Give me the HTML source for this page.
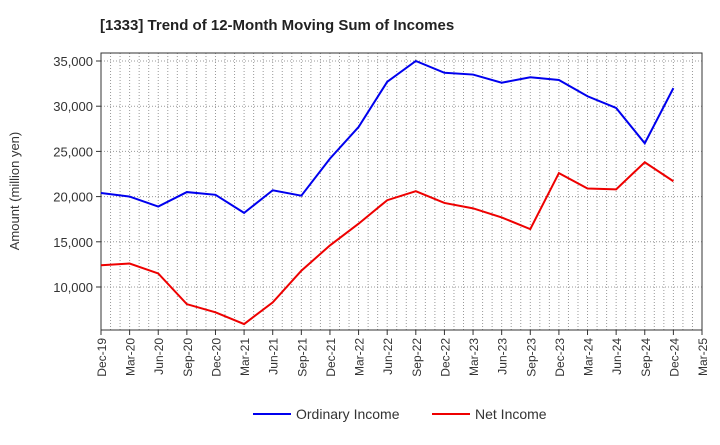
<!DOCTYPE html>
<html><head><meta charset="utf-8"><style>
body{margin:0;background:#fff;font-family:"Liberation Sans",Arial,sans-serif;}
</style></head><body>
<svg width="720" height="440" xmlns="http://www.w3.org/2000/svg">
<text x="100" y="30" font-size="15" font-weight="bold" fill="#222">[1333]  Trend of 12-Month Moving Sum of Incomes</text>
<g id="grid"></g>
<g id="axes"></g>
<g id="series"></g>
<text transform="translate(19,191) rotate(-90)" text-anchor="middle" font-size="13" fill="#333">Amount (million yen)</text>
<g>
<g><line x1="253" y1="414" x2="291" y2="414" stroke="#0000ee" stroke-width="2"/><text x="296" y="419" font-size="14" fill="#333">Ordinary Income</text></g>
<g><line x1="432" y1="414" x2="470" y2="414" stroke="#ee0000" stroke-width="2"/><text x="475" y="419" font-size="14" fill="#333">Net Income</text></g>
</g>
</svg>
<script>
const categories=["Dec-19","Mar-20","Jun-20","Sep-20","Dec-20","Mar-21","Jun-21","Sep-21","Dec-21","Mar-22","Jun-22","Sep-22","Dec-22","Mar-23","Jun-23","Sep-23","Dec-23","Mar-24","Jun-24","Sep-24","Dec-24","Mar-25"];
const ordinaryIncome=[20400,20000,18900,20500,20200,18200,20700,20100,24200,27700,32700,35000,33700,33500,32600,33200,32900,31100,29800,25900,32000];
const netIncome=[12400,12600,11500,8100,7200,5900,8300,11800,14600,17000,19600,20600,19300,18700,17700,16400,22600,20900,20800,23800,21700];
const yTicks=[10000,15000,20000,25000,30000,35000];
const NS="http://www.w3.org/2000/svg";
const L=101,R=702,T=53,B=330;
const yMin=5243,yMax=35885;
const x=i=>L+i*(R-L)/(categories.length-1);
const y=v=>B-(v-yMin)/(yMax-yMin)*(B-T);
function mk(tag,attrs,parent){const e=document.createElementNS(NS,tag);for(const k in attrs)e.setAttribute(k,attrs[k]);parent.appendChild(e);return e;}
const grid=document.getElementById('grid'),axes=document.getElementById('axes'),series=document.getElementById('series');
const months=(categories.length-1)*3;
for(let m=1;m<months;m++){const xx=L+m*(R-L)/months;
const g=mk('line',{x1:xx,x2:xx,y1:T,y2:B,stroke:'#999','stroke-width':1,'stroke-dasharray':'1,2'},grid);

}
yTicks.forEach(v=>{const yy=y(v);
const g=mk('line',{x1:L,x2:R,y1:yy,y2:yy,stroke:'#999','stroke-width':1,'stroke-dasharray':'1,2'},grid);


mk('line',{x1:L-5,x2:L,y1:yy,y2:yy,stroke:'#333'},axes);
const t=mk('text',{x:L-8,y:yy+5,'text-anchor':'end','font-size':13,fill:'#333'},axes);t.textContent=v.toLocaleString('en-US');

});
categories.forEach((c,i)=>{const xx=x(i);
mk('line',{x1:xx,x2:xx,y1:B,y2:B+5,stroke:'#333'},axes);
const t=mk('text',{transform:`translate(${xx+5},${B+8}) rotate(-90)`,'text-anchor':'end','font-size':12,fill:'#333'},axes);t.textContent=c;

});
const fr=mk('rect',{x:L,y:T,width:R-L,height:B-T,fill:'none',stroke:'#333'},axes);


function line(vals,color,name){const p=mk('polyline',{points:vals.map((v,i)=>x(i)+','+y(v)).join(' '),fill:'none',stroke:color,'stroke-width':2},series);

}
line(ordinaryIncome,'#0000ee','ordinary-income-line');
line(netIncome,'#ee0000','net-income-line');
</script>
</body></html>
